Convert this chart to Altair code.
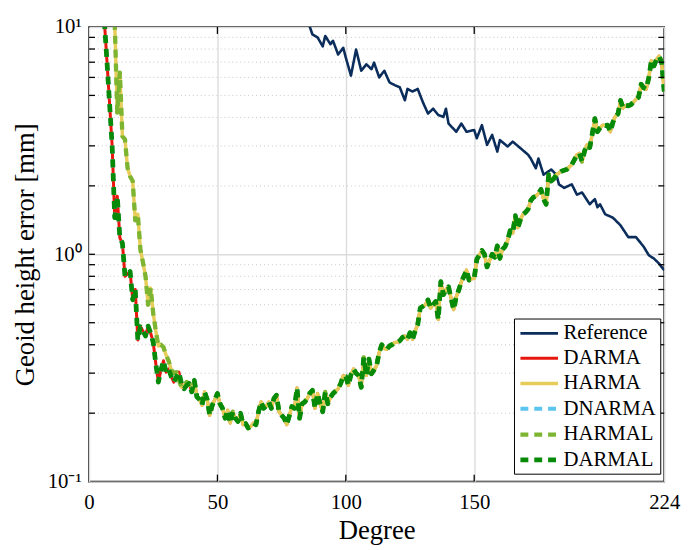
import altair as alt
import pandas as pd

# ---------------- data ----------------
series_names = ["Reference", "DARMA", "HARMA", "DNARMA", "HARMAL", "DARMAL"]
series_colors = ["#0b2d5b", "#e8170e", "#e6cd5a", "#5bc4ef", "#7db532", "#078a07"]
series_widths = [2.6, 4.8, 6.0, 2.6, 2.8, 3.0]
series_dashes = [[1, 0], [1, 0], [1, 0], [8, 6], [8, 6], [8, 6]]

ref_deg = [82, 86, 87, 89, 91, 92, 94, 95, 97, 99, 100, 102, 104, 106, 108, 110, 111,
           113, 115, 117, 119, 121, 123, 124, 126, 128, 130, 132, 134, 136, 138, 139,
           140, 143, 145, 147, 150, 151, 153, 155, 157, 159, 160, 163, 165, 168, 171,
           172, 174, 175, 177, 180, 182, 183, 185, 188, 190, 192, 195, 197, 198, 199,
           201, 204, 207, 210, 213, 216, 218, 220, 222, 224]
ref_val = [12.5, 10.0, 9.27, 9.0, 8.22, 9.13, 8.4, 8.7, 7.57, 8.1, 7.33, 6.11, 7.96,
           6.42, 6.85, 6.52, 6.97, 6.0, 6.42, 5.71, 5.55, 5.43, 4.76, 5.34, 5.2, 5.34,
           4.67, 4.16, 4.37, 4.1, 4.02, 4.37, 3.76, 3.46, 3.76, 3.46, 3.52, 3.24, 3.70,
           3.03, 3.35, 2.83, 3.18, 2.98, 3.13, 2.93, 2.74, 2.64, 2.39, 2.64, 2.24, 2.36,
           2.24, 2.03, 1.96, 2.03, 1.83, 1.87, 1.66, 1.75, 1.61, 1.66, 1.50, 1.45, 1.34,
           1.19, 1.19, 1.08, 0.99, 0.958, 0.91, 0.85]

darma_deg = list(range(5, 225))
darma_val = [
    14, 10.5, 7.0, 4.6, 3.0, 1.45, 1.8, 1.18, 1.12, 0.80,            # 5-14
    0.82, 0.84, 0.63, 0.70, 0.42, 0.48, 0.46, 0.437, 0.483, 0.45,    # 15-24
    0.41, 0.33, 0.274, 0.31, 0.34, 0.303, 0.313, 0.29, 0.274, 0.288, # 25-34
    0.303, 0.27, 0.256, 0.265, 0.27, 0.248, 0.279, 0.236, 0.23, 0.217,  # 35-44
    0.248, 0.23, 0.196, 0.217, 0.23, 0.244, 0.22, 0.21, 0.19, 0.206,    # 45-54
    0.181, 0.203, 0.19, 0.184, 0.2, 0.178, 0.18, 0.172, 0.175, 0.181,   # 55-64
    0.178, 0.203, 0.224, 0.21, 0.215, 0.224, 0.21, 0.232, 0.24, 0.203,  # 65-74
    0.196, 0.19, 0.178, 0.195, 0.214, 0.21, 0.258, 0.19, 0.22, 0.224,   # 75-84
    0.232, 0.245, 0.252, 0.21, 0.244, 0.22, 0.203, 0.248, 0.22, 0.235,  # 85-94
    0.244, 0.25, 0.256, 0.27, 0.292, 0.29, 0.265, 0.295, 0.313, 0.30,   # 95-104
    0.293, 0.26, 0.352, 0.293, 0.346, 0.298, 0.31, 0.324, 0.37, 0.40,   # 105-114
    0.385, 0.382, 0.395, 0.40, 0.409, 0.41, 0.416, 0.43, 0.437, 0.423,  # 115-124
    0.452, 0.423, 0.46, 0.491, 0.58, 0.59, 0.60, 0.63, 0.58, 0.60,      # 125-134
    0.62, 0.517, 0.758, 0.664, 0.70, 0.72, 0.64, 0.571, 0.65, 0.697,    # 135-144
    0.758, 0.80, 0.852, 0.77, 0.78, 0.784, 0.95, 0.99, 1.04, 1.0,       # 145-154
    0.88, 0.94, 1.0, 0.97, 1.09, 0.96, 1.05, 1.08, 1.15, 1.27,          # 155-164
    1.24, 1.48, 1.31, 1.42, 1.50, 1.53, 1.58, 1.72, 1.78, 1.80,         # 165-174
    1.85, 1.93, 1.75, 1.66, 2.24, 2.1, 2.15, 2.24, 2.28, 2.32,          # 175-184
    2.34, 2.36, 2.42, 2.48, 2.6, 2.74, 2.78, 2.56, 2.85, 3.03,          # 185-194
    2.95, 3.4, 3.95, 3.46, 3.6, 3.7, 3.68, 3.7, 3.46, 3.8,              # 195-204
    4.05, 4.15, 4.75, 4.4, 4.52, 4.5, 4.55, 4.67, 4.8, 4.91,            # 205-214
    5.6, 5.4, 5.33, 6.0, 7.1, 6.74, 7.2, 7.44, 7.0, 5.2,                # 215-224
]

# HARMA differs only at low degrees (9..41); from 42 on it follows DARMA
harma_head_deg = list(range(9, 42))
harma_head_val = [16, 10.5, 4.2, 6.3, 3.3, 3.2, 2.4, 2.2, 2.1, 1.41, 1.5, 1.05, 0.92,
                  0.8, 0.60, 0.71, 0.55, 0.46, 0.395, 0.40, 0.39, 0.36, 0.34, 0.31,
                  0.30, 0.303, 0.28, 0.26, 0.265, 0.274, 0.27, 0.26, 0.274]

x_ticks = [0, 50, 100, 150, 224]
y_major = [0.1, 1, 10]
y_minor = [0.2, 0.3, 0.4, 0.5, 0.6, 0.7, 0.8, 0.9, 2, 3, 4, 5, 6, 7, 8, 9]
x_inner = [50, 100, 150]

# ---------------- build tables ----------------
def frame(name, degs, vals):
    return pd.DataFrame({"degree": degs, "value": vals, "series": name})

tail = [(d, v) for d, v in zip(darma_deg, darma_val) if d >= 42]
harma_deg = harma_head_deg + [d for d, _ in tail]
harma_val = harma_head_val + [v for _, v in tail]

tables = {
    "Reference": frame("Reference", ref_deg, ref_val),
    "DARMA": frame("DARMA", darma_deg, darma_val),
    "HARMA": frame("HARMA", harma_deg, harma_val),
    "DNARMA": frame("DNARMA", darma_deg, darma_val),
    "HARMAL": frame("HARMAL", harma_deg, harma_val),
    "DARMAL": frame("DARMAL", darma_deg, darma_val),
}

W, H = 582, 460
FONT = "Liberation Serif"

xscale = alt.Scale(domain=[0, 224], nice=False, zero=False)
yscale = alt.Scale(type="log", domain=[0.1, 10], nice=False)

x_axis = alt.Axis(values=x_ticks, title="Degree", grid=True, ticks=False,
                  domain=False, labelFlush=False, labelPadding=10,
                  titlePadding=6, format="d")
y_axis = alt.Axis(values=y_major, title="Geoid height error [mm]", grid=True,
                  ticks=False, domain=False, labelPadding=8, titlePadding=8,
                  labelExpr="datum.value >= 9 ? '10\u00b9' : (datum.value >= 0.9 ? '10\u2070' : '10\u207b\u00b9')")

def X():
    return alt.X("degree:Q", scale=xscale, axis=x_axis)

def Y():
    return alt.Y("value:Q", scale=yscale, axis=y_axis)

color_enc = alt.Color("series:N", scale=alt.Scale(domain=series_names, range=series_colors),
                      legend=alt.Legend(title=None, orient="none", legendX=430, legendY=295,
                                        symbolType="M-1,0H3", symbolSize=361,
                                        labelFont=FONT, labelFontSize=21, labelColor="black",
                                        labelOffset=22, fillColor="white", strokeColor="black",
                                        padding=4, rowPadding=3.6, symbolOpacity=1))
dash_enc = alt.StrokeDash("series:N", scale=alt.Scale(domain=series_names, range=series_dashes),
                          legend=None)
width_enc = alt.StrokeWidth("series:N", scale=alt.Scale(domain=series_names, range=series_widths),
                            legend=None)

minor_df = pd.DataFrame({"value": y_minor})
yt_df = pd.DataFrame({"value": y_minor + [1]})
xt_df = pd.DataFrame({"degree": x_inner})

minor_grid = alt.Chart(minor_df).mark_rule(color="#c8c8c8", strokeDash=[1, 3], strokeWidth=1).encode(
    y=Y())

layers = [minor_grid]
for name in series_names:
    layers.append(
        alt.Chart(tables[name]).mark_line(clip=True, strokeJoin="round").encode(
            x=X(), y=Y(), color=color_enc, strokeDash=dash_enc, strokeWidth=width_enc,
            order=alt.Order("degree:Q"))
    )

# inward tick marks on all four sides
tick_style = dict(color="black", strokeWidth=1.3)
left_ticks = alt.Chart(yt_df).mark_rule(**tick_style).encode(
    y=Y(), x=alt.value(0), x2=alt.value(6))
right_ticks = alt.Chart(yt_df).mark_rule(**tick_style).encode(
    y=Y(), x=alt.value(W - 6), x2=alt.value(W))
bottom_ticks = alt.Chart(xt_df).mark_rule(**tick_style).encode(
    x=X(), y=alt.value(H), y2=alt.value(H - 7))
top_ticks = alt.Chart(xt_df).mark_rule(**tick_style).encode(
    x=X(), y=alt.value(0), y2=alt.value(7))
layers += [left_ticks, right_ticks, bottom_ticks, top_ticks]

chart = alt.layer(*layers).resolve_scale(
    color="shared", strokeDash="shared", strokeWidth="shared"
).properties(
    width=W, height=H,
    autosize=alt.AutoSizeParams(type="none"),
    padding={"left": 82, "top": 16, "right": 19, "bottom": 66},
).configure_view(
    stroke="black", strokeWidth=1.6
).configure_axis(
    labelFont=FONT, labelFontSize=21, labelColor="black",
    titleFont=FONT, titleFontSize=27, titleFontWeight="normal", titleColor="black",
    gridColor="#dcdcdc", gridWidth=1.4
)

chart.save("out.html", embed_options={"renderer": "svg", "actions": False})
